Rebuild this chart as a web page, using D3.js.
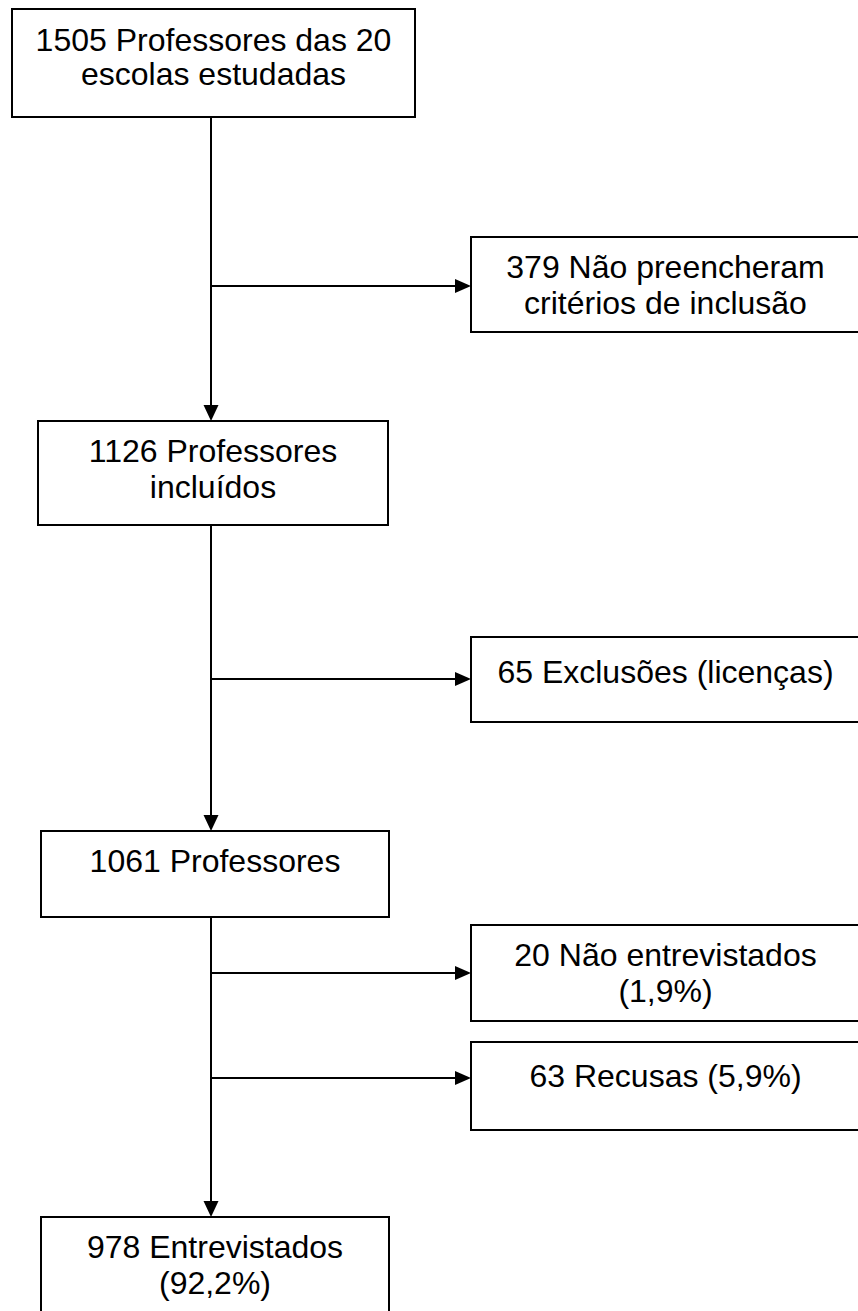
<!DOCTYPE html>
<html>
<head>
<meta charset="utf-8">
<script src="https://cdn.jsdelivr.net/npm/d3@7/dist/d3.min.js"></script>
<style>
  html, body { margin: 0; padding: 0; background: #fff; }
  svg { display: block; }
</style>
</head>
<body>
<svg id="chart" width="858" height="1311"></svg>
<script>
// ---- data ----
const mainLabels = [
  ["1505 Professores das 20", "escolas estudadas"],
  ["1126 Professores", "incluídos"],
  ["1061 Professores"],
  ["978 Entrevistados", "(92,2%)"]
];
const sideLabels = [
  ["379 Não preencheram", "critérios de inclusão"],
  ["65 Exclusões (licenças)"],
  ["20 Não entrevistados", "(1,9%)"],
  ["63 Recusas (5,9%)"]
];
const sideParent = [0, 1, 2, 2];

// ---- layout ----
const svg = d3.select("#chart");
const mainBoxes = [
  {x0: 12, x1: 415, y0: 9,    y1: 117, off: 42, lh: 34},
  {x0: 38, x1: 388, y0: 421,  y1: 525, off: 41, lh: 36},
  {x0: 41, x1: 389, y0: 831,  y1: 917, off: 41, lh: 36},
  {x0: 41, x1: 389, y0: 1217, y1: 1340, off: 41, lh: 36}
];
const sideBoxes = [
  {x0: 471, x1: 860, y0: 237,  y1: 332,  ay: 286,  off: 41, lh: 36},
  {x0: 471, x1: 860, y0: 637,  y1: 722,  ay: 679,  off: 46, lh: 36},
  {x0: 471, x1: 860, y0: 925,  y1: 1021, ay: 973,  off: 41, lh: 36},
  {x0: 471, x1: 860, y0: 1042, y1: 1130, ay: 1078, off: 45, lh: 36}
];
const spineX = 211;
const fontSize = 32;

function drawBox(b, lines) {
  svg.append("rect")
    .attr("x", b.x0).attr("y", b.y0)
    .attr("width", b.x1 - b.x0).attr("height", b.y1 - b.y0)
    .attr("fill", "#fff").attr("stroke", "#000").attr("stroke-width", 2);
  const cx = (b.x0 + b.x1) / 2;
  svg.append("text")
    .attr("text-anchor", "middle")
    .attr("font-family", "'Liberation Sans', Arial, sans-serif")
    .attr("font-size", fontSize)
    .attr("fill", "#000")
    .selectAll("tspan").data(lines).join("tspan")
    .attr("x", cx)
    .attr("y", (d, i) => b.y0 + b.off + i * b.lh)
    .text(d => d);
}

function arrowDown(x, yTip) {
  svg.append("path")
    .attr("d", d3.line()([[x - 7.5, yTip - 16], [x + 7.5, yTip - 16], [x, yTip]]) + "Z")
    .attr("fill", "#000");
}
function arrowRight(xTip, y) {
  svg.append("path")
    .attr("d", d3.line()([[xTip - 16, y - 7], [xTip - 16, y + 7], [xTip, y]]) + "Z")
    .attr("fill", "#000");
}

// spine segments between main boxes
for (let i = 0; i < mainBoxes.length - 1; i++) {
  const a = mainBoxes[i], b = mainBoxes[i + 1];
  svg.append("line")
    .attr("x1", spineX).attr("x2", spineX)
    .attr("y1", a.y1).attr("y2", b.y0 - 14)
    .attr("stroke", "#000").attr("stroke-width", 2);
  arrowDown(spineX, b.y0);
}
// side branches
sideBoxes.forEach((b, i) => {
  svg.append("line")
    .attr("x1", spineX).attr("x2", b.x0 - 14)
    .attr("y1", b.ay).attr("y2", b.ay)
    .attr("stroke", "#000").attr("stroke-width", 2);
  arrowRight(b.x0, b.ay);
});

mainBoxes.forEach((b, i) => drawBox(b, mainLabels[i]));
sideBoxes.forEach((b, i) => drawBox(b, sideLabels[i]));
</script>
</body>
</html>
